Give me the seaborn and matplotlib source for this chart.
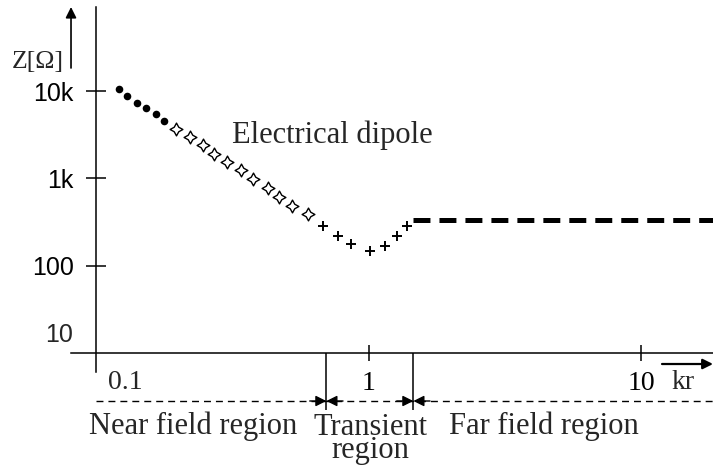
import matplotlib
matplotlib.use("Agg")
import matplotlib.pyplot as plt
import seaborn as sns

sns.set_style("white")
plt.rcParams['font.family'] = ['Liberation Serif', 'DejaVu Serif']
plt.rcParams['lines.scale_dashes'] = False

# 数据：近场（实心点 + 星形）、过渡区（十字）、远场（粗虚线）
near_dot_kr = [0.121, 0.130, 0.141, 0.153, 0.166, 0.178]
near_dot_z = [10450, 8840, 7350, 6340, 5460, 4570]

near_star_kr = [0.196, 0.221, 0.246, 0.271, 0.303, 0.341, 0.376, 0.429, 0.471, 0.523, 0.600]
near_star_z = [3670, 2950, 2390, 1900, 1540, 1240, 990, 774, 617, 488, 392]

trans_kr = [0.679, 0.775, 0.865, 1.01, 1.15, 1.27, 1.38]
trans_z = [284, 218, 175, 147, 168, 218, 284]

far_kr = [1.46, 18.4]
far_z = [330, 330]

region_edges = [0.70, 1.46]
y_ticks = [100, 1000, 10000]
y_tick_labels = ['100', '1k', '10k']
x_ticks = [1, 10]
x_tick_labels = ['1', '10']

fig = plt.figure(figsize=(7.13, 4.68), dpi=100)
ax = fig.add_axes([0, 0, 1, 1])
ax.set_xscale('log')
ax.set_yscale('log')
ax.set_xlim(0.0444, 18.36)
ax.set_ylim(0.482, 110200)

sns.scatterplot(x=near_dot_kr, y=near_dot_z, marker='o', s=30, color='black',
                edgecolor='black', linewidth=0, ax=ax)
sns.scatterplot(x=near_star_kr, y=near_star_z, marker=(4, 1, 0), s=85, color='white',
                edgecolor='black', linewidth=1.0, ax=ax)
sns.scatterplot(x=trans_kr, y=trans_z, marker='+', s=45, color='black',
                linewidth=1.4, ax=ax)
sns.lineplot(x=far_kr, y=far_z, color='black', linewidth=3.6,
             linestyle=(0, (12.2, 6.5)), ax=ax)

# 坐标轴
for side in ['top', 'right']:
    ax.spines[side].set_visible(False)
ax.spines['left'].set_position(('data', 0.1))
ax.spines['left'].set_bounds(6.05, 91600)
ax.spines['bottom'].set_position(('data', 10))
ax.spines['bottom'].set_bounds(0.081, 18.36)
for side in ['left', 'bottom']:
    ax.spines[side].set_linewidth(1.1)
    ax.spines[side].set_color('black')

ax.minorticks_off()
ax.set_yticks(y_ticks)
ax.set_yticklabels(y_tick_labels)
ax.set_xticks(x_ticks)
ax.set_xticklabels(x_tick_labels)
ax.tick_params(axis='y', left=True, direction='inout', length=14.4, width=1.1, pad=9.0,
               labelsize=18, labelfontfamily='Liberation Sans', colors='black')
ax.tick_params(axis='x', bottom=True, direction='inout', length=12, width=1.1, pad=7.0,
               labelsize=20, colors='black')
ax.set_xlabel('')
ax.set_ylabel('')

ax.text(0.1024, 0.2842, '10', transform=ax.transAxes, ha='right', va='center',
        fontsize=18, family='Liberation Sans')
ax.text(0.176, 0.168, '0.1', transform=ax.transAxes, ha='center', va='baseline', fontsize=20)
ax.text(0.958, 0.168, 'kr', transform=ax.transAxes, ha='center', va='baseline', fontsize=20)
ax.annotate('', xy=(1.0, 0.2222), xytext=(0.9285, 0.2222), xycoords='axes fraction',
            arrowprops=dict(arrowstyle='-|>', color='black', lw=1.6, mutation_scale=15,
                            shrinkA=0, shrinkB=0))

# Z 轴标题及箭头
ax.text(0.053, 0.8675, 'Z[Ω]', transform=ax.transAxes, ha='center', va='center', fontsize=18.5)
ax.annotate('', xy=(0.0996, 0.985), xytext=(0.0996, 0.8547), xycoords='axes fraction',
            arrowprops=dict(arrowstyle='-|>', color='black', lw=1.2, mutation_scale=16,
                            shrinkA=0, shrinkB=0))

ax.text(0.3254, 0.6944, 'Electrical dipole', transform=ax.transAxes, ha='left',
        va='baseline', fontsize=22)

# 区域划分
ax.vlines(region_edges, 2.22, 10, color='black', linewidth=1.1)
ax.hlines(2.82, 0.1, 18.36, color='black', linewidth=1.0, linestyles=[(0, (5, 3.6))])
for edge in region_edges:
    for off in (-12, 12):
        ax.annotate('', xy=(edge, 2.82), xytext=(off, 0), textcoords='offset points',
                    arrowprops=dict(arrowstyle='-|>', color='black', lw=1.0,
                                    mutation_scale=16, shrinkA=0, shrinkB=0))

ax.text(0.2714, 0.0726, 'Near field region', transform=ax.transAxes, ha='center',
        va='baseline', fontsize=22)
ax.text(0.519, 0.0213, 'Transient\nregion', transform=ax.transAxes, ha='center',
        va='baseline', fontsize=22, linespacing=0.72, multialignment='center')
ax.text(0.763, 0.0726, 'Far field region', transform=ax.transAxes, ha='center',
        va='baseline', fontsize=22)

fig.savefig('out.png', dpi=100)
